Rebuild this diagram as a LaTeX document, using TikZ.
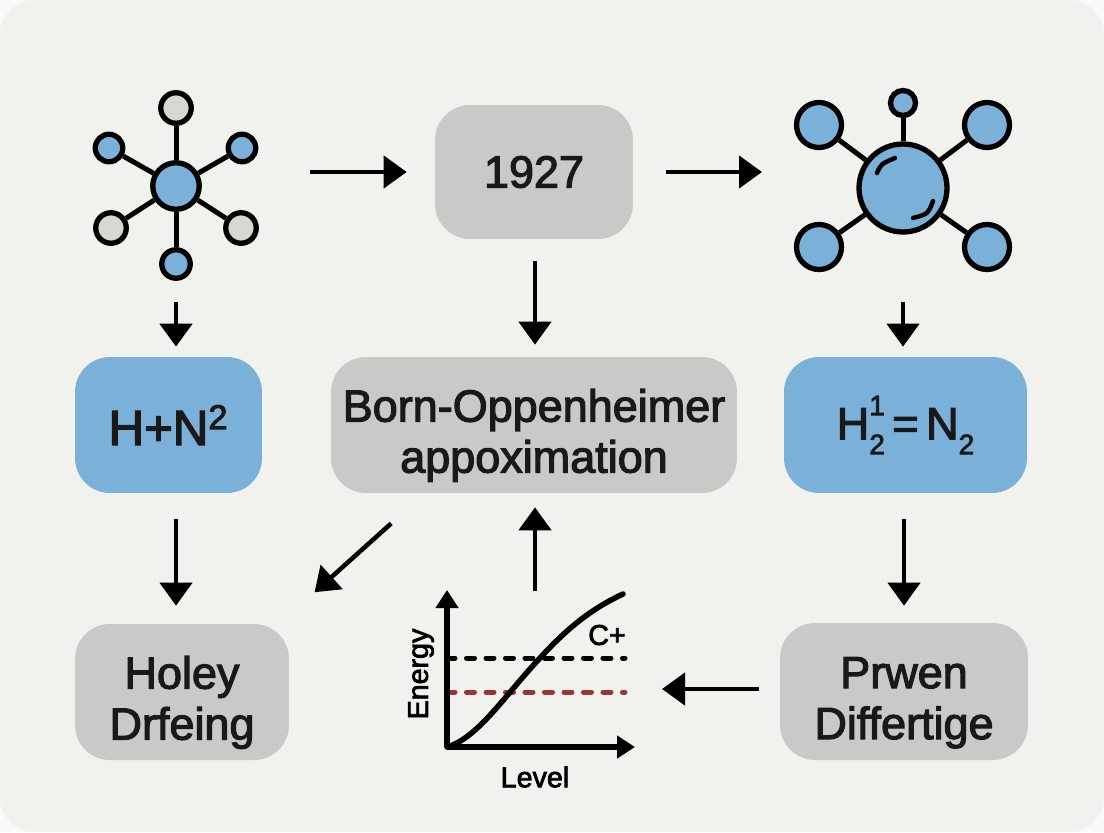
\documentclass[tikz,border=0pt]{standalone}
\usepackage{fontspec}
\setmainfont{Liberation Sans}[FakeBold=2.6]
\usetikzlibrary{arrows.meta}
\definecolor{paper}{HTML}{F1F1ED}
\definecolor{skyblue}{HTML}{7BB0D9}
\definecolor{boxgray}{HTML}{C9CAC7}
\definecolor{atomgray}{HTML}{D7D7D4}
\definecolor{darkred}{HTML}{9B3535}
\newcommand{\lowstrut}{\rule{0pt}{1.07cm}}
\newcommand{\smalldigit}[2]{\raisebox{#1}{\fontsize{16}{16}\selectfont #2}}
\tikzset{
  box/.style={rectangle,rounded corners=.7cm,inner sep=0pt,align=center,text=black!90,font=\fontsize{25.6}{29}\selectfont},
  atom/.style={circle,draw=black,line width=.106cm,inner sep=0pt,minimum size=#1},
  bond/.style={line width=.1cm},
  arw/.style={-{Triangle[length=.46cm,width=.64cm]},line width=.09cm},
  axis/.style={-{Triangle[length=.36cm,width=.44cm]},line width=.11cm},
  tag/.style={inner sep=0pt,font=\fontsize{16.3}{18}\selectfont}
}
\begin{document}
\begin{tikzpicture}[x=.02cm,y=-.02cm]
                    \useasboundingbox(0,0)rectangle(1104,832);
                    \fill[white!60!paper](0,0)rectangle(1104,832);
                    \fill[paper,rounded corners=.7cm](0,0)rectangle(1104,832);
                    \node[box,fill=boxgray,minimum width=3.96cm,minimum height=2.68cm](year)at(534,172){1927};
                    \node[box,fill=skyblue,minimum width=3.74cm,minimum height=2.72cm,font=\fontsize{28}{30}\selectfont](hplus)at(168.5,425){H+N\textsuperscript{2}};
                    \node[box,fill=boxgray,minimum width=8.12cm,minimum height=2.72cm](born)at(534,425){\lowstrut Born-Oppenheimer\\appoximation};
                    \node[box,fill=skyblue,minimum width=4.86cm,minimum height=2.72cm](hequal)at(905.5,425){H\rlap{\smalldigit{.48cm}{1}}\smalldigit{-.3cm}{2}\,=\,N\smalldigit{-.3cm}{2}};
                    \node[box,fill=boxgray,minimum width=4.28cm,minimum height=2.72cm](holey)at(182,692){\lowstrut Holey\\Drfeing};
                    \node[box,fill=boxgray,minimum width=4.96cm,minimum height=2.74cm](prwen)at(904,691.5){\lowstrut Prwen\\Differtige};
                    \node[atom=.93cm,fill=skyblue](lc)at(176,186){};
                    \node[atom=.61cm,fill=atomgray](la)at(176,108){};
                    \node[atom=.55cm,fill=skyblue](lb)at(242,148){};
                    \node[atom=.61cm,fill=atomgray](ld)at(241,228){};
                    \node[atom=.57cm,fill=skyblue](le)at(176,264){};
                    \node[atom=.61cm,fill=atomgray](lf)at(111,228){};
                    \node[atom=.55cm,fill=skyblue](lg)at(109,148){};
                    \foreach \n in {la,lb,ld,le,lf,lg}{
                        \draw[bond](lc)--(\n);
                    }
                    \node[atom=1.76cm,fill=skyblue](rc)at(903,188){};
                    \node[atom=.5cm,fill=skyblue](ra)at(903,103){};
                    \node[atom=.9cm,fill=skyblue](rb)at(987,125){};
                    \node[atom=.9cm,fill=skyblue](rd)at(987,247){};
                    \node[atom=.9cm,fill=skyblue](rf)at(819,247){};
                    \node[atom=.9cm,fill=skyblue](rg)at(819,125){};
                    \foreach \n in {ra,rb,rd,rf,rg}{
                        \draw[bond](rc)--(\n);
                    }
                    \draw[line width=.09cm,line cap=round](877,173)..controls(881,164)..(895,158);
                    \draw[line width=.09cm,line cap=round](913,218)..controls(928,214)..(933,201);
                    \coordinate(yearin)at(310,172);
                    \coordinate(yearout)at(762,172);
                    \coordinate(chartout)at(535,591);
                    \coordinate(chartin)at(662,689);
                    \draw[arw,shorten >=.56cm](yearin)--(year.west);
                    \draw[arw,shorten <=.66cm](year.east)--(yearout);
                    \draw[arw,shorten <=.44cm,shorten >=.24cm](year.south -| chartout)--(born.north -| chartout);
                    \draw[arw,shorten <=.42cm,shorten >=.2cm](le)--(le |- hplus.north);
                    \draw[arw,shorten <=.52cm,shorten >=.36cm](hplus.south -| le)--(holey.north -| le);
                    \draw[arw,shorten <=1.34cm,shorten >=.2cm](rc)--(rc |- hequal.north);
                    \draw[arw,shorten <=.52cm,shorten >=.34cm](prwen.north |- hequal.south)--(prwen.north);
                    \draw[arw,shorten <=.42cm](prwen.west |- chartin)--(chartin);
                    \draw[arw,shorten >=.28cm](chartout)--(born.south -| chartout);
                    \draw[arw,shorten <=.9cm,shorten >=.94cm](born.212.2)--(holey.35.6);
                    \coordinate(origin)at(447,747);
                    \coordinate(ytip)at(447,590);
                    \coordinate(xtip)at(635,747);
                    \draw[line width=.1cm,line cap=round,dash pattern=on .16cm off .23cm](origin |- 0,658)--(625,658);
                    \draw[darkred,line width=.1cm,line cap=round,dash pattern=on .16cm off .23cm](origin |- 0,692)--(625,692);
                    \draw[line width=.11cm,line cap=round](origin)..controls(478,738)and(505,695)..(540,658)..controls(570,625)and(595,607)..(623,594);
                    \draw[axis](origin)--(ytip);
                    \draw[axis](origin)--(xtip);
                    \node[tag,rotate=90](energy)at(421,674){Energy};
                    \node[tag](level)at(535,777){Level};
                    \node[tag](cplus)at(607,635){C+};
                \end{tikzpicture}
\end{document}
